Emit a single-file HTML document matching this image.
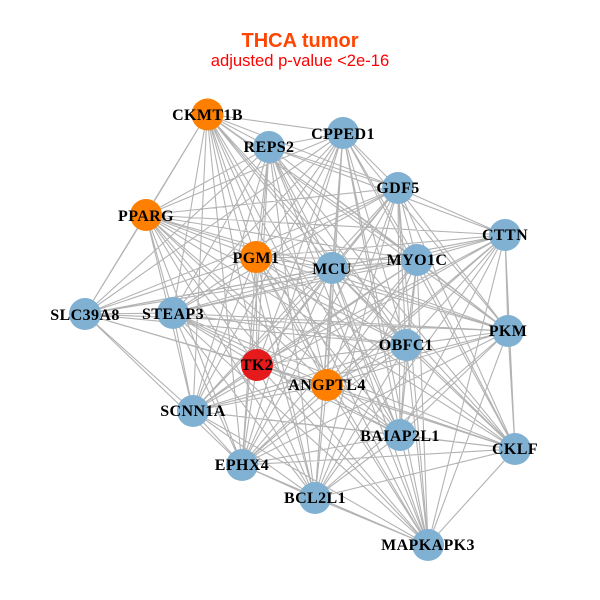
<!DOCTYPE html>
<html><head><meta charset="utf-8"><style>
html,body{margin:0;padding:0;background:#fff}
svg{display:block}
.n{font:bold 16px "Liberation Serif",serif;text-anchor:middle;fill:#000;letter-spacing:.4px}
</style></head><body>
<svg width="600" height="600" viewBox="0 0 600 600" xmlns="http://www.w3.org/2000/svg">
<rect width="600" height="600" fill="#fff"/>
<text x="300" y="47" font-family="Liberation Sans,sans-serif" font-weight="bold" font-size="20" fill="#ff4500" text-anchor="middle">THCA tumor</text>
<text x="300" y="66" font-family="Liberation Sans,sans-serif" font-size="16.6" fill="#ff0000" text-anchor="middle">adjusted p-value &lt;2e-16</text>
<path fill="none" stroke="#b3b3b3" stroke-width="1.1" d="
M207 114L269 147M207 114L343 133M207 114L398 188M207 114L417 260M207 114L332 268M207 114L256 257M207 114L146 215M207 114L85 314M207 114L173 313M207 114L257 365M207 114L327 385M207 114L406 345M207 114L508 331M207 114L193 411M207 114L400 435M207 114L515 449M207 114L242 465M207 114L315 498M207 114L428 545
M269 147L343 133M269 147L398 188M269 147L505 235M269 147L417 260M269 147L332 268M269 147L256 257M269 147L146 215M269 147L85 314M269 147L173 313M269 147L257 365M269 147L327 385M269 147L406 345M269 147L508 331M269 147L193 411M269 147L400 435M269 147L515 449M269 147L242 465M269 147L315 498M269 147L428 545
M343 133L398 188M343 133L417 260M343 133L332 268M343 133L256 257M343 133L146 215M343 133L85 314M343 133L173 313M343 133L257 365M343 133L327 385M343 133L406 345M343 133L508 331M343 133L193 411M343 133L400 435M343 133L515 449M343 133L242 465M343 133L315 498M343 133L428 545
M398 188L505 235M398 188L417 260M398 188L332 268M398 188L256 257M398 188L146 215M398 188L85 314M398 188L173 313M398 188L257 365M398 188L327 385M398 188L406 345M398 188L508 331M398 188L193 411M398 188L400 435M398 188L515 449M398 188L242 465M398 188L315 498M398 188L428 545
M505 235L417 260M505 235L332 268M505 235L256 257M505 235L146 215M505 235L85 314M505 235L173 313M505 235L257 365M505 235L327 385M505 235L406 345M505 235L508 331M505 235L193 411M505 235L400 435M505 235L515 449M505 235L242 465M505 235L315 498M505 235L428 545
M417 260L332 268M417 260L256 257M417 260L146 215M417 260L85 314M417 260L173 313M417 260L257 365M417 260L327 385M417 260L406 345M417 260L508 331M417 260L193 411M417 260L400 435M417 260L515 449M417 260L242 465M417 260L315 498M417 260L428 545
M332 268L256 257M332 268L146 215M332 268L85 314M332 268L173 313M332 268L257 365M332 268L327 385M332 268L406 345M332 268L508 331M332 268L193 411M332 268L400 435M332 268L515 449M332 268L242 465M332 268L315 498M332 268L428 545
M256 257L146 215M256 257L85 314M256 257L173 313M256 257L257 365M256 257L327 385M256 257L406 345M256 257L508 331M256 257L193 411M256 257L400 435M256 257L515 449M256 257L242 465M256 257L315 498M256 257L428 545
M146 215L85 314M146 215L173 313M146 215L257 365M146 215L327 385M146 215L406 345M146 215L508 331M146 215L193 411M146 215L400 435M146 215L515 449M146 215L242 465M146 215L315 498M146 215L428 545
M85 314L173 313M85 314L257 365M85 314L327 385M85 314L406 345M85 314L508 331M85 314L193 411M85 314L242 465
M173 313L257 365M173 313L327 385M173 313L406 345M173 313L508 331M173 313L193 411M173 313L400 435M173 313L515 449M173 313L242 465M173 313L315 498M173 313L428 545
M257 365L327 385M257 365L406 345M257 365L508 331M257 365L193 411M257 365L400 435M257 365L515 449M257 365L242 465M257 365L315 498M257 365L428 545
M327 385L406 345M327 385L508 331M327 385L193 411M327 385L400 435M327 385L515 449M327 385L242 465M327 385L315 498M327 385L428 545
M406 345L508 331M406 345L193 411M406 345L400 435M406 345L515 449M406 345L242 465M406 345L315 498M406 345L428 545
M508 331L193 411M508 331L400 435M508 331L515 449M508 331L242 465M508 331L315 498M508 331L428 545
M193 411L400 435M193 411L515 449M193 411L242 465M193 411L315 498M193 411L428 545
M400 435L515 449M400 435L242 465M400 435L315 498M400 435L428 545
M515 449L242 465M515 449L315 498M515 449L428 545
M242 465L315 498M242 465L428 545
M315 498L428 545"/>
<g fill="#80b1d3">
<circle cx="269" cy="147" r="16"/><circle cx="343" cy="133" r="16"/><circle cx="398" cy="188" r="16"/><circle cx="505" cy="235" r="16"/><circle cx="417" cy="260" r="16"/><circle cx="332" cy="268" r="16"/><circle cx="85" cy="314" r="16"/><circle cx="173" cy="313" r="16"/><circle cx="406" cy="345" r="16"/><circle cx="508" cy="331" r="16"/><circle cx="193" cy="411" r="16"/><circle cx="400" cy="435" r="16"/><circle cx="515" cy="449" r="16"/><circle cx="242" cy="465" r="16"/><circle cx="315" cy="498" r="16"/><circle cx="428" cy="545" r="16"/>
</g>
<g fill="#ff7f00"><circle cx="207.500" cy="114.500" r="16"/><circle cx="146" cy="215" r="16"/><circle cx="256" cy="257" r="16"/><circle cx="327" cy="385" r="16"/></g>
<circle cx="257" cy="365" r="16" fill="#e41a1c"/>
<g>
<text class="n" x="207.500" y="120">CKMT1B</text>
<text class="n" x="269" y="152">REPS2</text>
<text class="n" x="343" y="139">CPPED1</text>
<text class="n" x="398" y="193">GDF5</text>
<text class="n" x="505" y="240">CTTN</text>
<text class="n" x="417" y="265">MYO1C</text>
<text class="n" x="332" y="274">MCU</text>
<text class="n" x="256" y="263">PGM1</text>
<text class="n" x="146" y="221">PPARG</text>
<text class="n" x="85" y="320">SLC39A8</text>
<text class="n" x="173" y="319">STEAP3</text>
<text class="n" x="257" y="370">TK2</text>
<text class="n" x="327" y="390">ANGPTL4</text>
<text class="n" x="406" y="350">OBFC1</text>
<text class="n" x="508" y="336">PKM</text>
<text class="n" x="193" y="416">SCNN1A</text>
<text class="n" x="400" y="441">BAIAP2L1</text>
<text class="n" x="515" y="454">CKLF</text>
<text class="n" x="242" y="470">EPHX4</text>
<text class="n" x="315" y="503">BCL2L1</text>
<text class="n" x="428" y="550">MAPKAPK3</text>
</g>
</svg>
</body></html>
